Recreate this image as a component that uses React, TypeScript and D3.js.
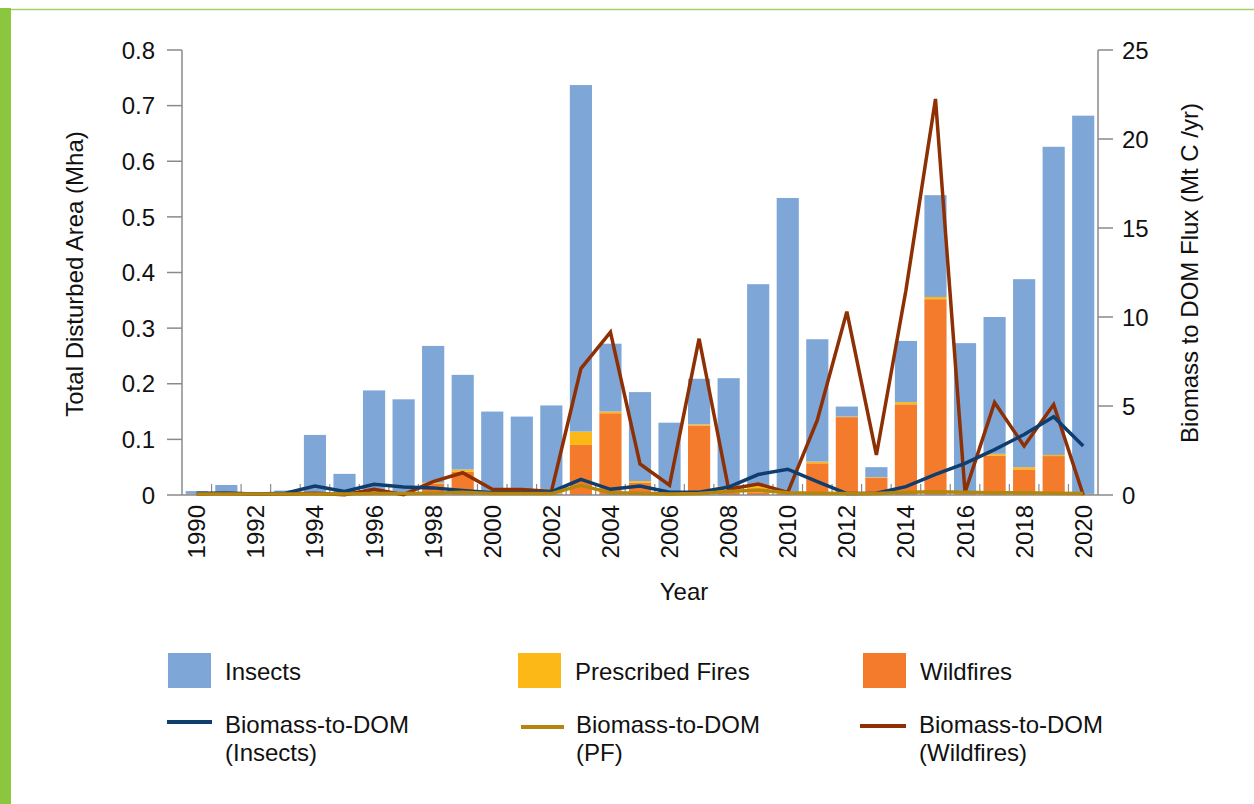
import { useEffect, useRef } from 'react';
import { select, scaleBand, scaleLinear, line } from 'd3';

const years = Array.from({ length: 31 }, (_, i) => 1990 + i);
const yearTicks = [1990, 1992, 1994, 1996, 1998, 2000, 2002, 2004, 2006, 2008, 2010, 2012, 2014, 2016, 2018, 2020];
const areaTicks = [0, 0.1, 0.2, 0.3, 0.4, 0.5, 0.6, 0.7, 0.8];
const fluxTicks = [0, 5, 10, 15, 20, 25];

// disturbed area (Mha), stacked: wildfires, prescribed fires, insects
const wildfires = [0.001, 0, 0, 0, 0.003, 0, 0.004, 0.002, 0.02, 0.042, 0.005, 0.004, 0.003, 0.09, 0.147, 0.022, 0.004, 0.125, 0.004, 0.005, 0.002, 0.057, 0.14, 0.031, 0.163, 0.352, 0.002, 0.071, 0.046, 0.07, 0.001];
const prescribed = [0.001, 0, 0, 0, 0, 0, 0.001, 0.001, 0.002, 0.004, 0.001, 0.001, 0.001, 0.024, 0.003, 0.003, 0.001, 0.002, 0.012, 0.012, 0.003, 0.003, 0.001, 0.001, 0.004, 0.004, 0.004, 0.003, 0.004, 0.002, 0.001];
const insects = [0.005, 0.018, 0.002, 0.008, 0.105, 0.038, 0.183, 0.169, 0.246, 0.17, 0.144, 0.136, 0.157, 0.623, 0.122, 0.16, 0.125, 0.082, 0.194, 0.362, 0.529, 0.22, 0.018, 0.018, 0.11, 0.183, 0.267, 0.246, 0.338, 0.554, 0.68];

// biomass-to-DOM flux (Mt C/yr)
const fluxInsects = [0.1, 0.1, 0.05, 0.1, 0.5, 0.2, 0.6, 0.45, 0.4, 0.25, 0.13, 0.13, 0.17, 0.88, 0.32, 0.5, 0.15, 0.15, 0.45, 1.15, 1.45, 0.75, 0.08, 0.1, 0.47, 1.16, 1.78, 2.55, 3.4, 4.4, 2.75];
const fluxPF = [0.05, 0.05, 0.05, 0.05, 0.05, 0.05, 0.08, 0.08, 0.1, 0.15, 0.08, 0.08, 0.08, 0.55, 0.12, 0.1, 0.06, 0.08, 0.2, 0.28, 0.12, 0.1, 0.08, 0.08, 0.15, 0.18, 0.15, 0.12, 0.12, 0.1, 0.08];
const fluxWildfires = [0.05, 0.1, 0.05, 0.05, 0.1, 0.02, 0.32, 0.02, 0.75, 1.25, 0.32, 0.31, 0.19, 7.1, 9.15, 1.75, 0.55, 8.78, 0.32, 0.62, 0.15, 4.2, 10.3, 2.25, 11.5, 22.25, 0.15, 5.2, 2.75, 5.08, 0];

const C = {
  insects: '#7ea7d8',
  pf: '#fbb817',
  wild: '#f47b2c',
  lineIns: '#0f3e6e',
  linePF: '#b5860e',
  lineWild: '#8e3004',
  axis: '#8a8a8a',
  green: '#8cc63f',
};

const FONT = 'Liberation Sans, Arial, Helvetica, sans-serif';

const App = () => {
  const ref = useRef<SVGSVGElement>(null);

  useEffect(() => {
    const width = 1254;
    const height = 804;
    const left = 182;
    const right = 1098;
    const top = 50;
    const bottom = 495;

    const svg = select(ref.current);
    svg.selectAll('*').remove();
    svg.attr('width', width).attr('height', height);

    svg.append('rect').attr('width', width).attr('height', height).attr('fill', '#fff');

    // frame decoration
    svg.append('rect').attr('x', 0).attr('y', 8).attr('width', 11).attr('height', height - 8).attr('fill', C.green);
    svg.append('line').attr('x1', 11).attr('x2', width).attr('y1', 9.5).attr('y2', 9.5)
      .attr('stroke', '#a3d16a').attr('stroke-width', 1.5);

    const x = scaleBand<string>()
      .domain(years.map(String))
      .range([left, right])
      .paddingInner(0.25)
      .paddingOuter(0.125);
    const yArea = scaleLinear().domain([0, 0.8]).range([bottom, top]);
    const yFlux = scaleLinear().domain([0, 25]).range([bottom, top]);

    // stacked bars
    const bars = svg.append('g');
    years.forEach((yr, i) => {
      const xx = x(String(yr))!;
      const w = x.bandwidth();
      const layers = [
        { v: wildfires[i], c: C.wild },
        { v: prescribed[i], c: C.pf },
        { v: insects[i], c: C.insects },
      ];
      let base = 0;
      layers.forEach((l) => {
        if (l.v > 0) {
          bars.append('rect')
            .attr('x', xx)
            .attr('width', w)
            .attr('y', yArea(base + l.v))
            .attr('height', yArea(base) - yArea(base + l.v))
            .attr('fill', l.c);
        }
        base += l.v;
      });
    });

    // axes
    const ax = svg.append('g').attr('stroke', C.axis).attr('stroke-width', 1.5);
    ax.append('line').attr('x1', left).attr('x2', left).attr('y1', top).attr('y2', bottom);
    ax.append('line').attr('x1', right).attr('x2', right).attr('y1', top).attr('y2', bottom);
    ax.append('line').attr('x1', left).attr('x2', right).attr('y1', bottom).attr('y2', bottom);
    areaTicks.forEach((t) => {
      ax.append('line').attr('x1', left - 15).attr('x2', left).attr('y1', yArea(t)).attr('y2', yArea(t));
    });
    fluxTicks.forEach((t) => {
      ax.append('line').attr('x1', right).attr('x2', right + 15).attr('y1', yFlux(t)).attr('y2', yFlux(t));
    });
    const gap = (x.step() - x.bandwidth()) / 2;
    years.slice(1).forEach((yr) => {
      const bx = x(String(yr))! - gap;
      ax.append('line').attr('x1', bx).attr('x2', bx).attr('y1', bottom - 11).attr('y2', bottom).attr('stroke-width', 1.2);
    });

    const txt = svg.append('g').attr('font-family', FONT).attr('font-size', 24).attr('fill', '#111');

    areaTicks.forEach((t) => {
      txt.append('text')
        .attr('x', left - 27)
        .attr('y', yArea(t))
        .attr('dy', '0.36em')
        .attr('text-anchor', 'end')
        .text(t === 0 ? '0' : t.toFixed(1));
    });
    fluxTicks.forEach((t) => {
      txt.append('text')
        .attr('x', right + 24)
        .attr('y', yFlux(t))
        .attr('dy', '0.36em')
        .text(String(t));
    });
    yearTicks.forEach((yr) => {
      const cx = x(String(yr))! + x.bandwidth() / 2;
      txt.append('text')
        .attr('transform', `translate(${cx + 8.5},${bottom + 10}) rotate(-90)`)
        .attr('text-anchor', 'end')
        .text(String(yr));
    });

    txt.append('text')
      .attr('transform', `translate(83,274) rotate(-90)`)
      .attr('text-anchor', 'middle')
      .text('Total Disturbed Area (Mha)');
    txt.append('text')
      .attr('transform', `translate(1198,273) rotate(-90)`)
      .attr('text-anchor', 'middle')
      .text('Biomass to DOM Flux (Mt C /yr)');
    txt.append('text')
      .attr('x', 684)
      .attr('y', 600)
      .attr('text-anchor', 'middle')
      .text('Year');

    // flux lines
    const cx = (i: number) => x(String(years[i]))! + x.bandwidth() / 2;
    const lineGen = line<number>()
      .x((_, i) => cx(i))
      .y((d) => yFlux(d));
    [
      { d: fluxWildfires, c: C.lineWild },
      { d: fluxInsects, c: C.lineIns },
      { d: fluxPF, c: C.linePF },
    ].forEach((s) => {
      svg.append('path')
        .attr('d', lineGen(s.d))
        .attr('fill', 'none')
        .attr('stroke', s.c)
        .attr('stroke-width', 3.5)
        .attr('stroke-linejoin', 'miter');
    });

    // legend
    const lg = svg.append('g').attr('font-family', FONT).attr('font-size', 24).attr('fill', '#111');
    const boxes = [
      { label: 'Insects', c: C.insects, x: 168 },
      { label: 'Prescribed Fires', c: C.pf, x: 518 },
      { label: 'Wildfires', c: C.wild, x: 863 },
    ];
    boxes.forEach((b) => {
      lg.append('rect').attr('x', b.x).attr('y', 653).attr('width', 43).attr('height', 35).attr('fill', b.c);
      lg.append('text').attr('x', b.x + 57).attr('y', 680).text(b.label);
    });
    const lines = [
      { sub: '(Insects)', c: C.lineIns, x1: 167, x2: 212, y: 722, tx: 225 },
      { sub: '(PF)', c: C.linePF, x1: 521, x2: 564, y: 727, tx: 576 },
      { sub: '(Wildfires)', c: C.lineWild, x1: 860, x2: 906, y: 726, tx: 919 },
    ];
    lines.forEach((l) => {
      lg.append('line').attr('x1', l.x1).attr('x2', l.x2).attr('y1', l.y).attr('y2', l.y)
        .attr('stroke', l.c).attr('stroke-width', 4);
      lg.append('text').attr('x', l.tx).attr('y', 733).text('Biomass-to-DOM');
      lg.append('text').attr('x', l.tx).attr('y', 761).text(l.sub);
    });
  }, []);

  return (
    <div style={{ position: 'absolute', left: 0, top: 0 }}>
      <svg ref={ref} style={{ display: 'block' }}></svg>
    </div>
  );
};

export default App;
